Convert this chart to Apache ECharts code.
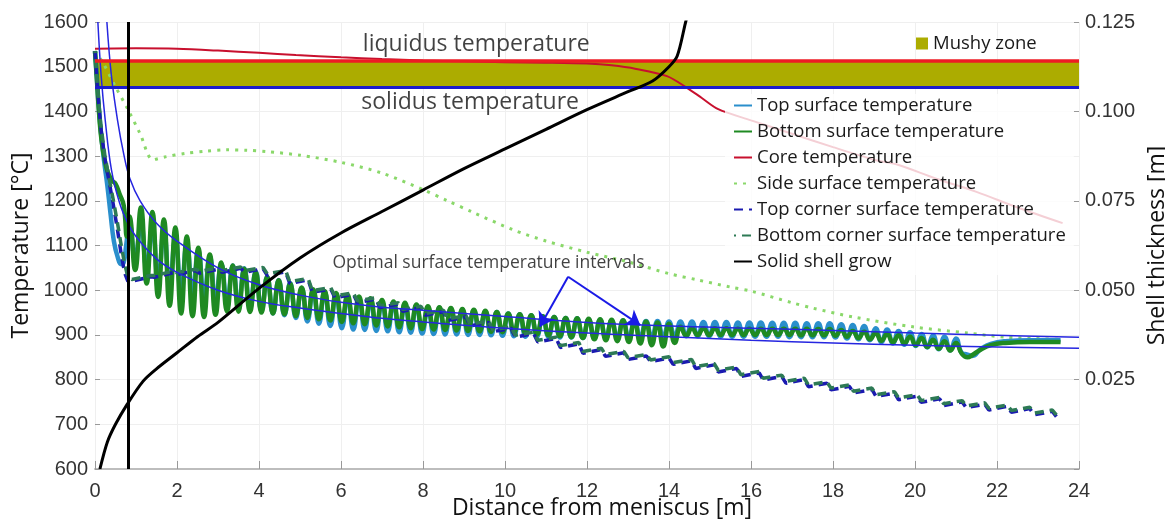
<!DOCTYPE html>
<html><head><meta charset="utf-8">
<script src="https://cdn.jsdelivr.net/npm/echarts/dist/echarts.min.js"></script>
<style>html,body{margin:0;padding:0;background:#fff}#c{width:1165px;height:525px}</style>
</head><body><div id="c"></div>
<script>
// ---------- data ----------
const xTicks = [0, 24, 2];          // distance axis min, max, step [m]
const tempTicks = [600, 1600, 100]; // temperature axis
const shellTicks = [0, 0.125, 0.025];

const liquidusT = 1513;
const solidusT = 1455;
const moldExitX = 0.8;

const coreTemp = [[0,1540],[1,1541],[2,1540],[3,1536],[4,1531],[4.9,1526],[6,1521],[7,1517],[8,1514],[9,1512],[10,1510],[11,1509],[12,1507],[12.6,1503],[13.2,1495],[13.95,1479],[14.4,1455],[14.8,1430],[15.2,1405],[16,1380],[17,1350],[18,1320],[19,1292],[19.6,1280],[20.5,1250],[21.5,1220],[22.5,1185],[23.6,1150]];

const sideTemp = [[0,1535],[0.2,1508],[0.5,1455],[0.8,1405],[1.1,1350],[1.41,1292],[1.7,1298],[2.2,1306],[2.7,1311],[3.2,1314],[3.7,1313],[4.2,1310],[5,1302],[6,1286],[7,1262],[8,1225],[8.6,1200],[9.2,1175],[10.2,1135],[11,1110],[12,1085],[13.1,1061],[14,1037],[14.7,1023],[15.5,1007],[16,998],[17,972],[17.5,960],[18.5,940],[19.95,918],[21.3,904],[22.2,895],[23.5,890]];

// surface temperatures: start-up part, oscillating part (alternate peak / trough, sampled every oscStep from oscStart), end part
const oscStart = 0.84, oscStep = 0.14;
const topSurfPre = [[0,1535],[0.05,1470],[0.1,1400],[0.16,1340],[0.22,1290],[0.3,1235],[0.38,1170],[0.46,1110],[0.55,1075],[0.64,1058],[0.7,1062],[0.76,1100]];
const topSurfOsc = [
1150,1072,1148,1048,1142,1022,1132,1008,1117,994,
1104,990,1090,985,1076,977,1059,970,1055,966,
1049,961,1042,954,1030,948,1023,944,1016,938,
1005,930,1000,925,997,920,992,915,986,912,
983,911,979,909,975,908,972,906,970,905,
967,903,962,902,961,901,959,901,957,900,
955,900,953,899,951,898,948,897,946,896,
944,896,942,895,940,894,938,894,937,893,
935,892,934,892,933,893,932,893,932,894,
931,894,931,895,930,896,930,897,930,897,
929,897,929,896,929,896,928,896,928,896,
928,896,927,896,927,895,927,895,926,895,
926,895,926,894,924,892,922,890,920,888,
915,884,912,881,909,878,906,875,902,872,
899,868,896,865,892,860,856];
const topSurfTail = [[21.4,853],[21.6,868],[21.85,880],[22.2,886],[22.8,888],[23.55,888]];

const botSurfPre = [[0,1535],[0.05,1465],[0.1,1395],[0.16,1335],[0.24,1290],[0.32,1262],[0.42,1245],[0.5,1238],[0.6,1215],[0.7,1190],[0.78,1120]];
const botSurfOsc = [
1165,1045,1185,1015,1175,985,1158,965,1140,948,
1120,942,1095,940,1080,945,1062,952,1055,952,
1048,951,1040,950,1030,948,1022,946,1015,942,
1006,938,1002,935,998,932,994,929,990,926,
986,924,982,921,978,919,975,917,972,915,
968,913,964,912,962,911,960,910,958,909,
956,908,954,907,951,906,948,905,946,903,
944,901,942,899,940,897,938,895,937,893,
936,890,935,888,934,886,933,884,932,881,
930,877,928,874,925,882,918,898,915,900,
915,900,915,900,915,900,914,900,914,900,
914,900,914,900,914,900,914,899,914,899,
913,899,913,898,911,896,909,893,907,890,
904,887,902,884,899,881,896,877,893,873,
889,869,886,865,882,858,850];
const botSurfTail = [[21.4,855],[21.6,867],[21.85,877],[22.2,882],[22.8,884],[23.55,884]];

// corner temperatures: start-up part, then saw-tooth (low, high) per roll pitch
const cornerStart = 0.9, cornerPitch = 0.55, cornerRise = 0.45;
const topCornerPre = [[0,1535],[0.06,1450],[0.14,1365],[0.24,1295],[0.34,1245],[0.44,1195],[0.54,1140],[0.64,1080],[0.72,1040],[0.8,1020]];
const topCornerSaw = [1020,1030,1029,1039,1035,1044,1038,1047,1040,1049,1040,1048,1033,1041,1015,1023,995,1003,983,991,972,980,961,969,953,961,944,952,932,940,920,928,907,915,895,903,884,892,872,880,859,867,852,860,845,853,840,848,834,842,825,833,817,825,807,815,799,807,792,800,784,792,777,785,770,778,762,770,755,763,749,757,742,750,737,745,732,740,727,735,721,729,717];
const botCornerPre = [[0,1535],[0.06,1455],[0.14,1372],[0.24,1302],[0.34,1252],[0.44,1205],[0.54,1155],[0.64,1100],[0.72,1060],[0.8,1030]];
const botCornerSaw = [1024,1033,1033,1042,1039,1047,1042,1050,1044,1052,1044,1051,1037,1044,1019,1026,999,1006,987,994,976,983,965,972,957,964,948,955,936,943,924,931,911,918,899,906,888,895,876,883,863,870,856,863,849,856,844,851,838,845,829,836,821,828,811,818,803,810,796,803,788,795,781,788,774,781,766,773,759,766,753,760,746,753,741,748,736,743,731,738,725,732,721];

const optUpper = [[0.29,1600],[0.4,1480],[0.55,1380],[0.7,1305],[0.85,1250],[1.1,1200],[1.5,1150],[2,1110],[3,1050],[4,1012],[5,989],[6,973],[7,962],[8,955],[10,941],[12,928],[14,920],[16,915],[18,910],[20,904],[22,899],[24,895]];
const optLower = [[0.07,1600],[0.15,1480],[0.25,1380],[0.4,1270],[0.6,1195],[0.8,1150],[1.0,1120],[1.5,1070],[2,1040],[3,1000],[4,975],[5,960],[6,948],[7,937],[8,929],[10,915],[12,904],[14,896],[16,888],[18,882],[20,877],[22,873],[24,870]];

const shellThickness = [[0.12,0],[0.3,0.0075],[0.5,0.0125],[0.78,0.018],[1.17,0.0245],[1.5,0.028],[2,0.0325],[2.5,0.037],[3,0.041],[4,0.0505],[5,0.059],[6,0.066],[7,0.072],[8,0.078],[9,0.084],[10,0.0895],[11,0.095],[12,0.1005],[13,0.1055],[13.6,0.1085],[14,0.1125],[14.2,0.1155],[14.4,0.1247],[14.45,0.127]];

const annotations = [
  {name:'liquidus temperature', value:[9.3,1549], size:23},
  {name:'solidus temperature', value:[9.15,1419], size:23},
  {name:'Optimal surface temperature intervals', value:[9.6,1061], size:17.5}
];
const arrowFrom = [11.54,1030];
const arrowTo = [[10.85,918],[13.3,922]];

const legendNames = ['Top surface temperature','Bottom surface temperature','Core temperature','Side surface temperature','Top corner surface temperature','Bottom corner surface temperature','Solid shell grow'];

// ---------- build series data ----------
function osc(pre, vals, tail){
  return pre.concat(vals.map((v,i)=>[+(oscStart+i*oscStep).toFixed(3), v])).concat(tail);
}
function saw(pre, vals){
  return pre.concat(vals.map((v,i)=>[+(cornerStart+Math.floor(i/2)*cornerPitch+(i%2?cornerRise:0)).toFixed(3), v]));
}

const FONT = "'Open Sans', 'Noto Sans', sans-serif";
const NUMFONT = "'Liberation Sans', Arial, sans-serif";

const chart = echarts.init(document.getElementById('c'), null, {renderer:'canvas'});
chart.setOption({
  animation:false,
  backgroundColor:'#fff',
  grid:{left:95, right:86, top:22, bottom:56, containLabel:false, outerBoundsMode:'none'},
  xAxis:{type:'value', min:xTicks[0], max:xTicks[1], interval:xTicks[2],
    axisLine:{show:true, lineStyle:{color:'#bdbdbd', width:2}},
    axisTick:{show:true, inside:true, length:8, lineStyle:{color:'#999'}},
    axisLabel:{fontSize:20, color:'#333', fontFamily:NUMFONT, margin:12, formatter:v=>String(v)},
    splitLine:{show:true, lineStyle:{color:'#efefef'}},
    name:'Distance from meniscus [m]', nameLocation:'middle', nameGap:28, nameMoveOverlap:false,
    nameTextStyle:{fontSize:23, color:'#111', fontFamily:FONT, padding:[0,0,0,30]}},
  yAxis:[
    {type:'value', min:tempTicks[0], max:tempTicks[1], interval:tempTicks[2], position:'left',
     axisLine:{show:false}, axisTick:{show:true, inside:true, length:5, lineStyle:{color:'#999'}},
     axisLabel:{fontSize:20, color:'#333', fontFamily:NUMFONT, margin:7, formatter:v=>String(v)},
     splitLine:{show:true, lineStyle:{color:'#efefef'}},
     name:'Temperature [°C]', nameLocation:'middle', nameGap:60,
     nameTextStyle:{fontSize:23, color:'#111', fontFamily:FONT}},
    {type:'value', min:shellTicks[0], max:shellTicks[1], interval:shellTicks[2], position:'right',
     axisLine:{show:false}, axisTick:{show:true, inside:true, length:5, lineStyle:{color:'#999'}},
     axisLabel:{fontSize:20, color:'#333', fontFamily:NUMFONT, margin:6,
       formatter:v=> v===0 ? '' : v.toFixed(3)},
     splitLine:{show:false},
     name:'Shell thickness [m]', nameLocation:'middle', nameGap:56,
     nameTextStyle:{fontSize:23, color:'#111', fontFamily:FONT}}
  ],
  legend:[
    {data:legendNames, orient:'vertical', left:725, top:94, itemWidth:18, itemHeight:10, itemGap:7,
     itemStyle:{opacity:0},
     backgroundColor:'rgba(255,255,255,0.8)', padding:[2,8,4,8],
     textStyle:{fontSize:18.5, color:'#1a1a1a', fontFamily:FONT}},
    {data:['Mushy zone'], left:911, top:29, icon:'rect', itemWidth:12, itemHeight:12,
     textStyle:{fontSize:18.5, color:'#1a1a1a', fontFamily:FONT}}
  ],
  series:[
    {name:'Mushy zone', type:'line', color:'#acac00', itemStyle:{color:'#acac00'}, z:1,
     data:[], symbol:'none',
     markArea:{silent:true, itemStyle:{color:'#acac00', opacity:1},
       data:[[{yAxis:solidusT},{yAxis:liquidusT}]]},
     markLine:{silent:true, symbol:'none', label:{show:false},
       data:[{yAxis:liquidusT, lineStyle:{color:'#ee1c24', width:3.5, type:'solid'}},
             {yAxis:solidusT, lineStyle:{color:'#1c1ccc', width:3, type:'solid'}}]}},
    {name:'Side surface temperature', type:'line', data:sideTemp, symbol:'none', smooth:0.3, z:2,
     color:'#8ad86a', lineStyle:{color:'#8ad86a', width:3, type:[3,6]}},
    {name:'Top surface temperature', type:'line', data:osc(topSurfPre, topSurfOsc, topSurfTail), symbol:'none', smooth:0.5, z:3,
     color:'#2a8fcc', lineStyle:{color:'#2a8fcc', width:4.5}},
    {name:'Bottom surface temperature', type:'line', data:osc(botSurfPre, botSurfOsc, botSurfTail), symbol:'none', smooth:0.5, z:3,
     color:'#1f8a22', lineStyle:{color:'#1f8a22', width:4.5}},
    {name:'Top corner surface temperature', type:'line', data:saw(topCornerPre, topCornerSaw), symbol:'none', z:3,
     color:'#1a1ab0', lineStyle:{color:'#1a1ab0', width:3.5, type:[9,6]}},
    {name:'Bottom corner surface temperature', type:'line', data:saw(botCornerPre, botCornerSaw), symbol:'none', z:3,
     color:'#2d7a55', lineStyle:{color:'#2d7a55', width:3.5, type:[9,6], dashOffset:7}},
    {name:'Optimal upper', type:'line', data:optUpper, symbol:'none', smooth:0.4, z:4,
     lineStyle:{color:'#2626e0', width:1.5}},
    {name:'Optimal lower', type:'line', data:optLower, symbol:'none', smooth:0.4, z:4,
     lineStyle:{color:'#2626e0', width:1.5}},
    {name:'Core temperature', type:'line', data:coreTemp, symbol:'none', smooth:0.3, z:2,
     color:'#c8102e', lineStyle:{color:'#c8102e', width:2}},
    {name:'Solid shell grow', type:'line', yAxisIndex:1, data:shellThickness, symbol:'none', smooth:0.3, z:5,
     color:'#000', lineStyle:{color:'#000', width:3},
     markLine:{silent:true, symbol:'none', label:{show:false},
       lineStyle:{color:'#000', width:3, type:'solid'}, data:[{xAxis:moldExitX}]}},
    {name:'notes', type:'scatter', z:6, symbol:'circle', symbolSize:2, itemStyle:{color:'rgba(0,0,0,0)'},
     data:annotations.map(a=>({name:a.name, value:a.value,
       label:{show:true, position:'inside', formatter:'{b}', fontSize:a.size, color:'#111', fontFamily:FONT}})),
     markLine:{silent:true, symbol:['none','arrow'], symbolSize:14, label:{show:false},
       lineStyle:{color:'#1a1ae6', width:2, type:'solid'},
       data:arrowTo.map(t=>[{coord:arrowFrom},{coord:t}])}}
  ]
});
</script></body></html>
